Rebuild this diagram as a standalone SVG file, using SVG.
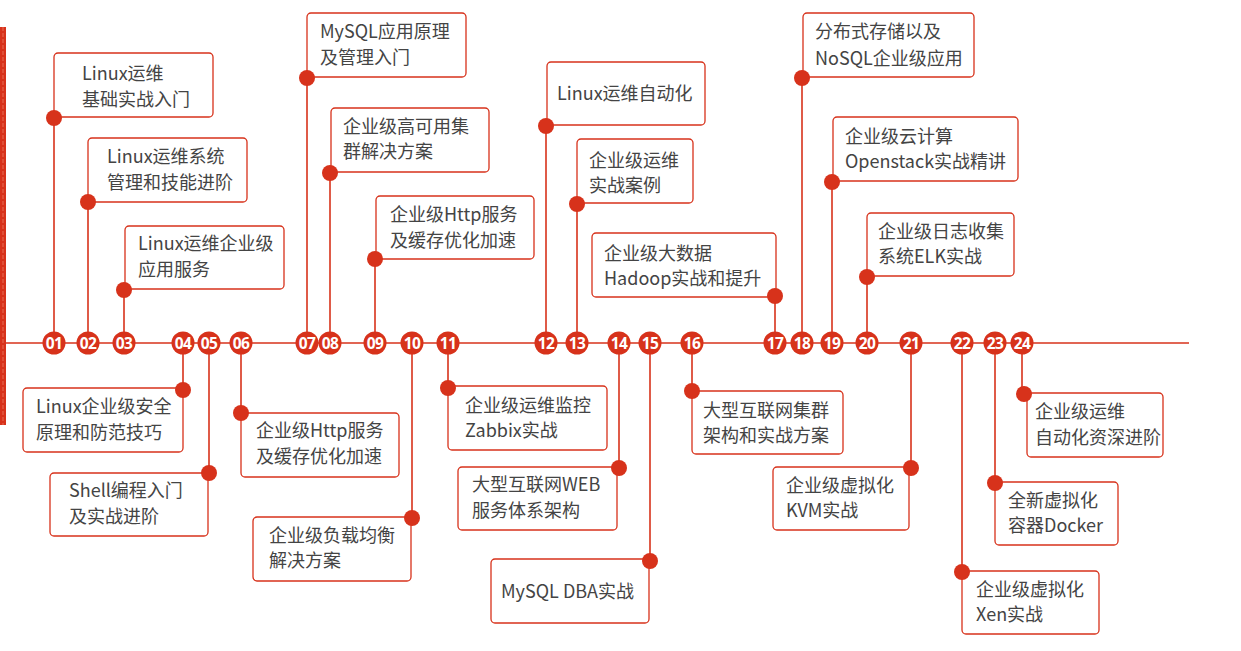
<svg xmlns="http://www.w3.org/2000/svg" width="1241" height="651" viewBox="0 0 1241 651">
<style>
.box{fill:#fff;stroke:#d7321b;stroke-width:1.3}
.dot{fill:#d7321b}
.ln{stroke:#d7321b;stroke-width:1.6;fill:none}
.nc{fill:#d7321b}
.nt{fill:#fff;font-family:"Open Sans","Liberation Sans",sans-serif;font-weight:700;font-size:15.5px;text-anchor:middle;letter-spacing:-0.5px}
.t{fill:#444;font-family:"Noto Sans CJK SC","Noto Sans",sans-serif;font-size:18px}
</style>
<rect width="1241" height="651" fill="#fff"/>
<g id="sidebar">
<rect x="0" y="27" width="6" height="398" fill="#d7321b"/>
<line x1="3" y1="27" x2="3" y2="425" stroke="#ec7b62" stroke-width="0.8" stroke-dasharray="4,2"/>
</g>
<g id="connectors">
<line class="ln" x1="6" y1="343" x2="1189" y2="343"/>
<line class="ln" x1="54" y1="118" x2="54" y2="343"/>
<line class="ln" x1="88" y1="202" x2="88" y2="343"/>
<line class="ln" x1="124" y1="290" x2="124" y2="343"/>
<line class="ln" x1="183" y1="343" x2="183" y2="390"/>
<line class="ln" x1="209" y1="343" x2="209" y2="473"/>
<line class="ln" x1="241" y1="343" x2="241" y2="413"/>
<line class="ln" x1="307" y1="78" x2="307" y2="343"/>
<line class="ln" x1="330" y1="173" x2="330" y2="343"/>
<line class="ln" x1="375" y1="259" x2="375" y2="343"/>
<line class="ln" x1="412" y1="343" x2="412" y2="518"/>
<line class="ln" x1="448" y1="343" x2="448" y2="388"/>
<line class="ln" x1="546" y1="126" x2="546" y2="343"/>
<line class="ln" x1="577" y1="204" x2="577" y2="343"/>
<line class="ln" x1="619" y1="343" x2="619" y2="468"/>
<line class="ln" x1="650" y1="343" x2="650" y2="561"/>
<line class="ln" x1="692" y1="343" x2="692" y2="391"/>
<line class="ln" x1="775" y1="296" x2="775" y2="343"/>
<line class="ln" x1="802" y1="78" x2="802" y2="343"/>
<line class="ln" x1="832" y1="182" x2="832" y2="343"/>
<line class="ln" x1="867" y1="277" x2="867" y2="343"/>
<line class="ln" x1="911" y1="343" x2="911" y2="468"/>
<line class="ln" x1="962" y1="343" x2="962" y2="572"/>
<line class="ln" x1="995" y1="343" x2="995" y2="483"/>
<line class="ln" x1="1022" y1="343" x2="1022" y2="393"/>
</g>
<g id="n01"><rect class="box" x="54" y="53" width="159" height="64" rx="4"/><text class="t" x="82" y="80">Linux运维</text><text class="t" x="82" y="106">基础实战入门</text><circle class="dot" cx="54" cy="118" r="8"/><circle class="nc" cx="54" cy="343" r="11.5"/><text class="nt" x="54" y="348.5">01</text></g>
<g id="n02"><rect class="box" x="88" y="138" width="159" height="64" rx="4"/><text class="t" x="107" y="163">Linux运维系统</text><text class="t" x="107" y="189">管理和技能进阶</text><circle class="dot" cx="88" cy="202" r="8"/><circle class="nc" cx="88" cy="343" r="11.5"/><text class="nt" x="88" y="348.5">02</text></g>
<g id="n03"><rect class="box" x="125" y="226" width="159" height="63" rx="4"/><text class="t" x="138" y="250">Linux运维企业级</text><text class="t" x="138" y="276">应用服务</text><circle class="dot" cx="124" cy="290" r="8"/><circle class="nc" cx="124" cy="343" r="11.5"/><text class="nt" x="124" y="348.5">03</text></g>
<g id="n04"><rect class="box" x="23" y="388" width="160" height="64" rx="4"/><text class="t" x="36" y="413">Linux企业级安全</text><text class="t" x="36" y="439">原理和防范技巧</text><circle class="dot" cx="183" cy="390" r="8"/><circle class="nc" cx="183" cy="343" r="11.5"/><text class="nt" x="183" y="348.5">04</text></g>
<g id="n05"><rect class="box" x="50" y="473" width="158" height="63" rx="4"/><text class="t" x="69" y="497">Shell编程入门</text><text class="t" x="69" y="523">及实战进阶</text><circle class="dot" cx="209" cy="473" r="8"/><circle class="nc" cx="209" cy="343" r="11.5"/><text class="nt" x="209" y="348.5">05</text></g>
<g id="n06"><rect class="box" x="241" y="413" width="158" height="64" rx="4"/><text class="t" x="256" y="437">企业级Http服务</text><text class="t" x="256" y="463">及缓存优化加速</text><circle class="dot" cx="241" cy="413" r="8"/><circle class="nc" cx="241" cy="343" r="11.5"/><text class="nt" x="241" y="348.5">06</text></g>
<g id="n07"><rect class="box" x="307" y="13" width="159" height="64" rx="4"/><text class="t" x="320" y="38">MySQL应用原理</text><text class="t" x="320" y="64">及管理入门</text><circle class="dot" cx="307" cy="78" r="8"/><circle class="nc" cx="307" cy="343" r="11.5"/><text class="nt" x="307" y="348.5">07</text></g>
<g id="n08"><rect class="box" x="331" y="108" width="158" height="64" rx="4"/><text class="t" x="343" y="133">企业级高可用集</text><text class="t" x="343" y="158">群解决方案</text><circle class="dot" cx="330" cy="173" r="8"/><circle class="nc" cx="330" cy="343" r="11.5"/><text class="nt" x="330" y="348.5">08</text></g>
<g id="n09"><rect class="box" x="376" y="196" width="158" height="63" rx="4"/><text class="t" x="390" y="221">企业级Http服务</text><text class="t" x="390" y="247">及缓存优化加速</text><circle class="dot" cx="375" cy="259" r="8"/><circle class="nc" cx="375" cy="343" r="11.5"/><text class="nt" x="375" y="348.5">09</text></g>
<g id="n10"><rect class="box" x="253" y="517" width="158" height="64" rx="4"/><text class="t" x="269" y="542">企业级负载均衡</text><text class="t" x="269" y="567">解决方案</text><circle class="dot" cx="412" cy="518" r="8"/><circle class="nc" cx="412" cy="343" r="11.5"/><text class="nt" x="412" y="348.5">10</text></g>
<g id="n11"><rect class="box" x="448" y="386" width="159" height="64" rx="4"/><text class="t" x="465" y="412">企业级运维监控</text><text class="t" x="465" y="437">Zabbix实战</text><circle class="dot" cx="448" cy="388" r="8"/><circle class="nc" cx="448" cy="343" r="11.5"/><text class="nt" x="448" y="348.5">11</text></g>
<g id="n12"><rect class="box" x="547" y="62" width="158" height="63" rx="4"/><text class="t" x="557" y="100">Linux运维自动化</text><circle class="dot" cx="546" cy="126" r="8"/><circle class="nc" cx="546" cy="343" r="11.5"/><text class="nt" x="546" y="348.5">12</text></g>
<g id="n13"><rect class="box" x="577" y="139" width="116" height="64" rx="4"/><text class="t" x="589" y="167">企业级运维</text><text class="t" x="589" y="192">实战案例</text><circle class="dot" cx="577" cy="204" r="8"/><circle class="nc" cx="577" cy="343" r="11.5"/><text class="nt" x="577" y="348.5">13</text></g>
<g id="n14"><rect class="box" x="458" y="467" width="159" height="63" rx="4"/><text class="t" x="472" y="491">大型互联网WEB</text><text class="t" x="472" y="517">服务体系架构</text><circle class="dot" cx="619" cy="468" r="8"/><circle class="nc" cx="619" cy="343" r="11.5"/><text class="nt" x="619" y="348.5">14</text></g>
<g id="n15"><rect class="box" x="491" y="559" width="158" height="64" rx="4"/><text class="t" x="501" y="598">MySQL DBA实战</text><circle class="dot" cx="650" cy="561" r="8"/><circle class="nc" cx="650" cy="343" r="11.5"/><text class="nt" x="650" y="348.5">15</text></g>
<g id="n16"><rect class="box" x="692" y="391" width="151" height="63" rx="4"/><text class="t" x="703" y="417">大型互联网集群</text><text class="t" x="703" y="442">架构和实战方案</text><circle class="dot" cx="692" cy="391" r="8"/><circle class="nc" cx="692" cy="343" r="11.5"/><text class="nt" x="692" y="348.5">16</text></g>
<g id="n17"><rect class="box" x="592" y="233" width="184" height="64" rx="4"/><text class="t" x="604" y="260">企业级大数据</text><text class="t" x="604" y="285">Hadoop实战和提升</text><circle class="dot" cx="775" cy="296" r="8"/><circle class="nc" cx="775" cy="343" r="11.5"/><text class="nt" x="775" y="348.5">17</text></g>
<g id="n18"><rect class="box" x="803" y="13" width="171" height="64" rx="4"/><text class="t" x="815" y="38">分布式存储以及</text><text class="t" x="815" y="65">NoSQL企业级应用</text><circle class="dot" cx="802" cy="78" r="8"/><circle class="nc" cx="802" cy="343" r="11.5"/><text class="nt" x="802" y="348.5">18</text></g>
<g id="n19"><rect class="box" x="833" y="117" width="185" height="64" rx="4"/><text class="t" x="845" y="143">企业级云计算</text><text class="t" x="845" y="168">Openstack实战精讲</text><circle class="dot" cx="832" cy="182" r="8"/><circle class="nc" cx="832" cy="343" r="11.5"/><text class="nt" x="832" y="348.5">19</text></g>
<g id="n20"><rect class="box" x="867" y="213" width="147" height="63" rx="4"/><text class="t" x="878" y="238">企业级日志收集</text><text class="t" x="878" y="263">系统ELK实战</text><circle class="dot" cx="867" cy="277" r="8"/><circle class="nc" cx="867" cy="343" r="11.5"/><text class="nt" x="867" y="348.5">20</text></g>
<g id="n21"><rect class="box" x="773" y="467" width="136" height="63" rx="4"/><text class="t" x="786" y="492">企业级虚拟化</text><text class="t" x="786" y="517">KVM实战</text><circle class="dot" cx="911" cy="468" r="8"/><circle class="nc" cx="911" cy="343" r="11.5"/><text class="nt" x="911" y="348.5">21</text></g>
<g id="n22"><rect class="box" x="962" y="571" width="137" height="63" rx="4"/><text class="t" x="976" y="596">企业级虚拟化</text><text class="t" x="976" y="621">Xen实战</text><circle class="dot" cx="962" cy="572" r="8"/><circle class="nc" cx="962" cy="343" r="11.5"/><text class="nt" x="962" y="348.5">22</text></g>
<g id="n23"><rect class="box" x="995" y="482" width="123" height="63" rx="4"/><text class="t" x="1008" y="507">全新虚拟化</text><text class="t" x="1008" y="532">容器Docker</text><circle class="dot" cx="995" cy="483" r="8"/><circle class="nc" cx="995" cy="343" r="11.5"/><text class="nt" x="995" y="348.5">23</text></g>
<g id="n24"><rect class="box" x="1027" y="393" width="136" height="64" rx="4"/><text class="t" x="1035" y="418">企业级运维</text><text class="t" x="1035" y="444">自动化资深进阶</text><circle class="dot" cx="1024" cy="394" r="8"/><circle class="nc" cx="1022" cy="343" r="11.5"/><text class="nt" x="1022" y="348.5">24</text></g>
</svg>
